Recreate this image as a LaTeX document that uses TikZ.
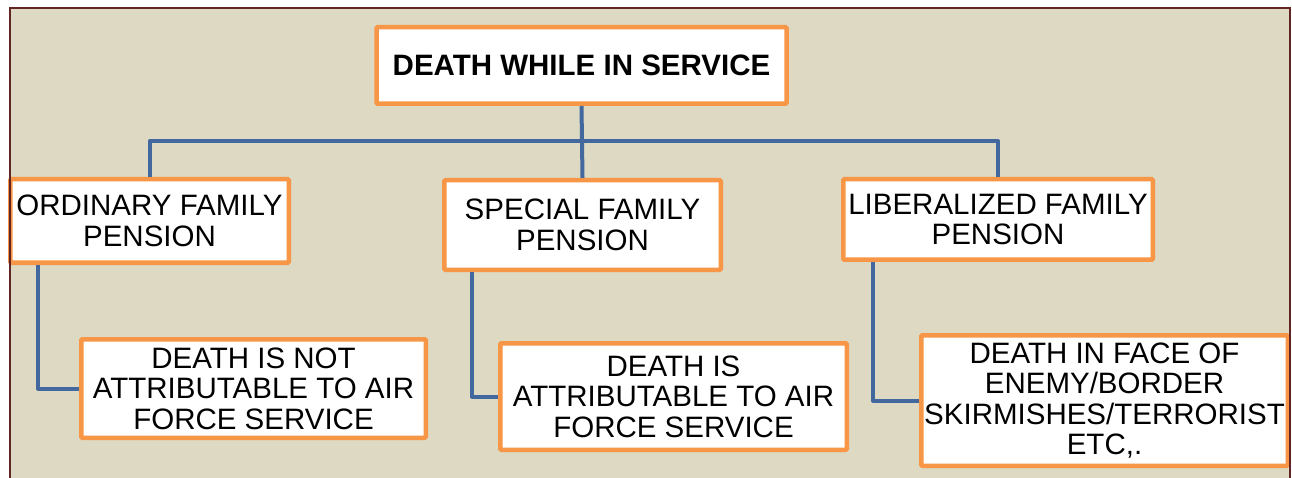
\documentclass[tikz,border=0pt]{standalone}
\usepackage{fontspec}
\setmainfont{Liberation Sans}
\definecolor{bgtan}{HTML}{DDD9C3}
\definecolor{frame}{HTML}{632523}
\definecolor{boxorange}{HTML}{F79646}
\definecolor{connblue}{RGB}{66,104,158}
\tikzset{
  box/.style={draw=boxorange, line width=4.5pt, fill=white, rounded corners=1pt,
    inner sep=0pt, align=center, font=\fontsize{29.5}{30.5}\selectfont},
  conn/.style={draw=connblue, line width=4pt, line join=round},
  frameline/.style={draw=frame, line width=2pt}
}
\begin{document}
\begin{tikzpicture}[x=1pt,y=-1pt]
\useasboundingbox (0,0) rectangle (1292,478);
\fill[white] (0,0) rectangle (1292,478);
\fill[bgtan] (9.5,8.5) rectangle (1289.5,478);

\coordinate (hb) at (581.5,141);
\coordinate (c1) at (38,0);
\coordinate (c2) at (472,0);
\coordinate (c3) at (873,0);

\node[box, minimum width=410pt, minimum height=76.5pt, font=\fontsize{29.5}{30.5}\selectfont\bfseries] (top) at (581.5,65.5) {DEATH WHILE IN SERVICE};
\node[box, minimum width=278.5pt, minimum height=83.5pt] (b1) at (149.5,221) {ORDINARY FAMILY\\PENSION};
\node[box, minimum width=276.5pt, minimum height=89.5pt] (b2) at (582.5,225) {SPECIAL FAMILY\\PENSION};
\node[box, minimum width=309.5pt, minimum height=80.5pt] (b3) at (998,219.5) {LIBERALIZED FAMILY\\PENSION};
\node[box, minimum width=344.5pt, minimum height=98.5pt] (b4) at (253.5,388.5) {DEATH IS NOT\\ATTRIBUTABLE TO AIR\\FORCE SERVICE};
\node[box, minimum width=346.5pt, minimum height=106.5pt] (b5) at (673.5,396.5) {DEATH IS\\ATTRIBUTABLE TO AIR\\FORCE SERVICE};
\node[box, minimum width=366.5pt, minimum height=130.5pt] (b6) at (1104.5,400.5) {DEATH IN FACE OF\\ENEMY/BORDER\\SKIRMISHES/TERRORIST\\ETC,.};

\draw[conn] (top.south) -- (b2.north);
\draw[conn] (b1.north) |- (hb) -| (b3.north);
\draw[conn] (b1.south -| c1) |- (b4.west);
\draw[conn] (b2.south -| c2) |- (b5.west);
\draw[conn] (b3.south -| c3) |- (b6.west);

\draw[frameline] (9.5,478) -- (9.5,8.5) -- (1289.5,8.5) -- (1289.5,478);
\end{tikzpicture}
\end{document}
